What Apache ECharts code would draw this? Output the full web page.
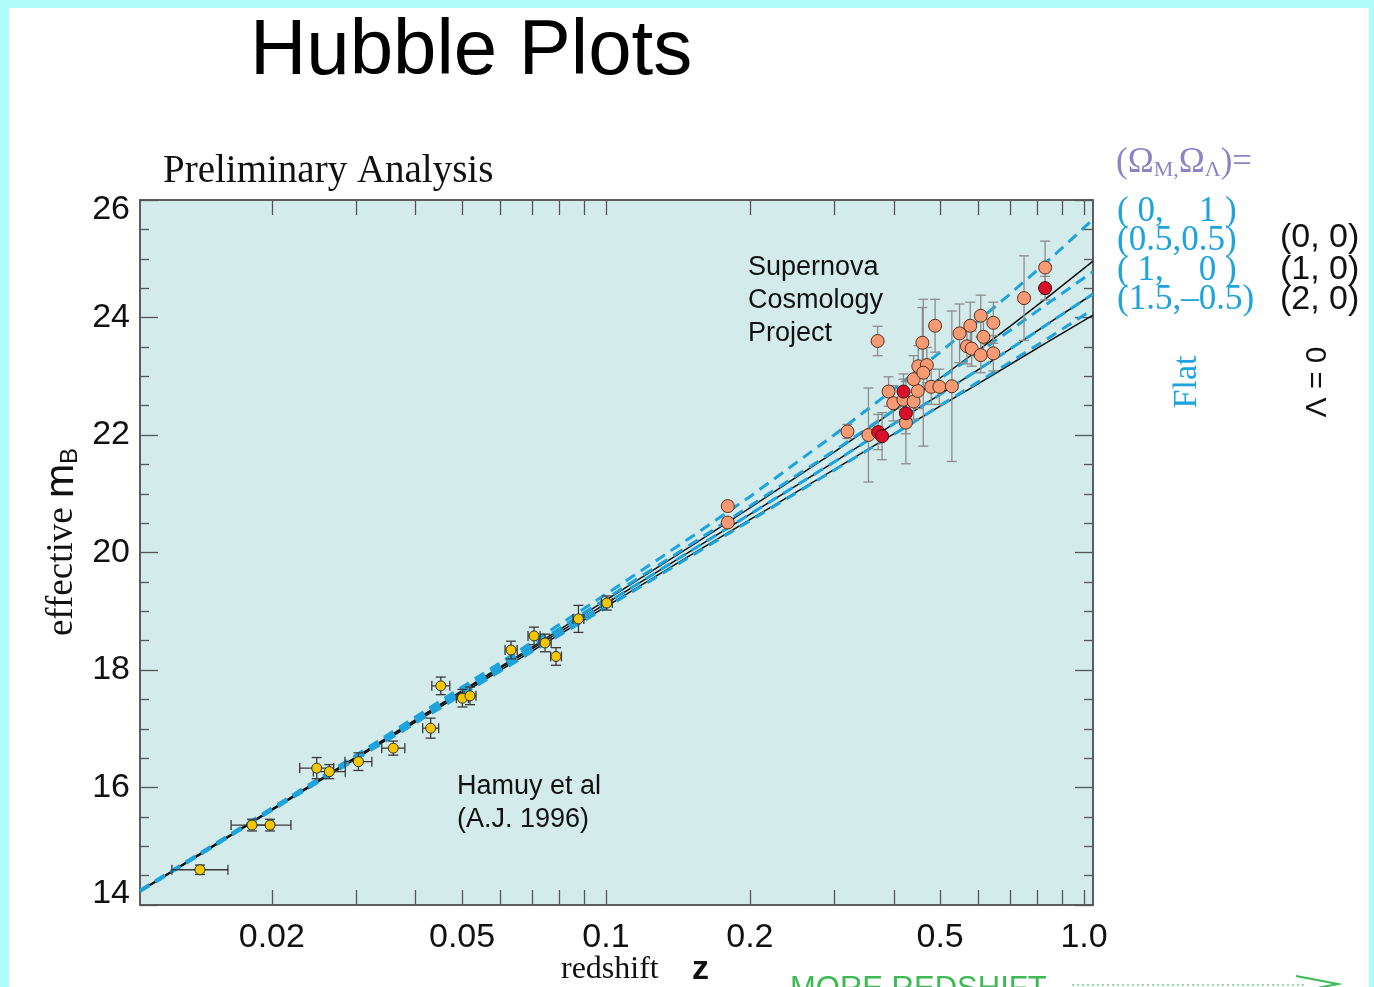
<!DOCTYPE html>
<html>
<head>
<meta charset="utf-8">
<script src="https://cdn.jsdelivr.net/npm/echarts@6/dist/echarts.min.js"></script>
<style>
html,body{margin:0;padding:0;width:1374px;height:987px;overflow:hidden;background:#aefcfc;}
#paper{position:absolute;left:9px;top:8px;width:1360px;height:990px;background:#ffffff;}
#chart{position:absolute;left:0;top:0;width:1374px;height:987px;}
</style>
</head>
<body>
<div id="paper"></div>
<div id="chart"></div>
<script>
// ---------------- data ----------------
// Calan/Tololo (Hamuy et al 1996) low-redshift supernovae
const hamuyZ   = [0.01415,0.01818,0.01983,0.02483,0.02638,0.03035,0.0359,0.04298,0.04513,0.05008,0.05195,0.0633,0.07072,0.07457,0.07862,0.08758,0.1004];
const hamuyM   = [14.60,15.36,15.36,16.33,16.27,16.44,16.67,17.01,17.73,17.52,17.56,18.34,18.58,18.46,18.23,18.87,19.14];
const hamuyZLo = [0.01236,0.01644,0.01793,0.02288,0.02443,0.02844,0.03396,0.04136,0.04322,0.04865,0.05047,0.0615,0.0687,0.0724,0.0766,0.0853,0.0978];
const hamuyZHi = [0.01619,0.02011,0.02193,0.02695,0.02849,0.03238,0.03795,0.04467,0.04713,0.05155,0.05347,0.0652,0.0728,0.0768,0.0807,0.0899,0.1031];
const hamuyMErr= [0.08,0.10,0.10,0.18,0.12,0.15,0.12,0.17,0.15,0.15,0.15,0.15,0.15,0.15,0.15,0.23,0.12];

// Supernova Cosmology Project, orange points
const scpZ    = [0.1798,0.1798,0.320,0.354,0.370,0.390,0.399,0.419,0.424,0.440,0.449,0.440,0.450,0.469,0.461,0.459,0.488,0.479,0.498,0.529,0.549,0.578,0.608,0.646,0.616,0.569,0.582,0.608,0.646,0.749,0.829];
const scpM    = [20.79,20.51,22.06,22.00,23.60,22.74,22.54,22.60,22.21,22.57,22.75,22.95,23.17,23.19,23.06,23.57,23.86,22.82,22.82,22.83,23.73,23.86,24.03,23.91,23.67,23.51,23.47,23.36,23.39,24.33,24.85];
const scpMErr = [0.08,0.08,0.12,0.80,0.25,0.25,0.30,0.35,0.70,0.30,0.30,0.40,0.35,0.30,1.25,0.60,0.45,0.30,0.30,1.28,0.50,0.40,0.35,0.35,0.30,0.30,0.30,0.30,0.30,0.72,0.45];
// SCP, red points
const scpRedZ    = [0.371,0.378,0.419,0.424,0.829];
const scpRedM    = [22.05,21.98,22.74,22.37,24.50];
const scpRedMErr = [0.30,0.40,0.30,0.35,0.20];

// model curves (Omega_M, Omega_Lambda)
const modelZ     = [0.0106,0.015,0.02,0.03,0.05,0.07,0.1,0.15,0.2,0.3,0.4,0.5,0.6,0.7,0.85,1.044];
const flat_0_1   = [14.25,15.01,15.65,16.55,17.71,18.47,19.29,20.25,20.95,22.00,22.78,23.41,23.94,24.40,25.00,25.67];
const flat_05_05 = [14.24,15.00,15.64,16.53,17.67,18.41,19.21,20.13,20.79,21.73,22.42,22.96,23.40,23.78,24.27,24.78];
const flat_1_0   = [14.24,14.99,15.62,16.51,17.63,18.36,19.13,20.02,20.65,21.54,22.19,22.69,23.11,23.46,23.92,24.40];
const flat_15_m05= [14.23,14.98,15.61,16.48,17.58,18.31,19.06,19.93,20.54,21.40,22.01,22.50,22.90,23.24,23.67,24.14];
const lam0_0_0   = [14.24,15.00,15.63,16.52,17.65,18.39,19.19,20.10,20.76,21.71,22.41,22.97,23.44,23.85,24.38,24.96];
const lam0_1_0   = [14.24,14.99,15.62,16.51,17.63,18.36,19.13,20.02,20.65,21.54,22.19,22.69,23.11,23.46,23.92,24.40];
const lam0_2_0   = [14.23,14.98,15.61,16.49,17.60,18.32,19.08,19.95,20.56,21.41,22.02,22.49,22.87,23.20,23.61,24.04];

// axes
const xMin = 0.0106, xMax = 1.044;
const xLabelValues = [0.02,0.05,0.1,0.2,0.5,1.0];
const xLabelTexts  = ['0.02','0.05','0.1','0.2','0.5','1.0'];
const xTickValues  = [0.02,0.03,0.04,0.05,0.06,0.07,0.08,0.09,0.1,0.2,0.3,0.4,0.5,0.6,0.7,0.8,0.9,1.0];
const yMin = 14, yMax = 26, yStep = 2;

// ---------------- chart ----------------
const chart = echarts.init(document.getElementById('chart'), null, {renderer:'canvas'});
const SANS = '"Liberation Sans", Arial, sans-serif';
const SERIF = '"Liberation Serif", "Times New Roman", serif';
const CYAN = '#1ea3dc';

function zip(xs, ys) { return xs.map((x, i) => [x, ys[i]]); }

function errRender(params, api) {
  const x = api.value(0), y = api.value(1);
  const xl = api.value(2), xh = api.value(3), yl = api.value(4), yh = api.value(5);
  const cap = api.value(6);
  const color = params.seriesName === 'hamuyErr' ? '#3a3a3a' : '#8c8c8c';
  const style = {stroke: color, lineWidth: 1.3};
  const c = api.coord([x, y]);
  const t = api.coord([x, yh]);
  const b = api.coord([x, yl]);
  const ch = [
    {type:'line', shape:{x1:c[0], y1:t[1], x2:c[0], y2:b[1]}, style},
    {type:'line', shape:{x1:c[0]-cap, y1:t[1], x2:c[0]+cap, y2:t[1]}, style},
    {type:'line', shape:{x1:c[0]-cap, y1:b[1], x2:c[0]+cap, y2:b[1]}, style}
  ];
  if (xh > xl) {
    const l = api.coord([xl, y]), r = api.coord([xh, y]);
    ch.push({type:'line', shape:{x1:l[0], y1:c[1], x2:r[0], y2:c[1]}, style});
    ch.push({type:'line', shape:{x1:l[0], y1:c[1]-cap, x2:l[0], y2:c[1]+cap}, style});
    ch.push({type:'line', shape:{x1:r[0], y1:c[1]-cap, x2:r[0], y2:c[1]+cap}, style});
  }
  return {type:'group', children: ch};
}

const hamuyErrData = hamuyZ.map((z, i) => [z, hamuyM[i], hamuyZLo[i], hamuyZHi[i], hamuyM[i]-hamuyMErr[i], hamuyM[i]+hamuyMErr[i], 5]);
const scpErrData = scpZ.map((z, i) => [z, scpM[i], z, z, scpM[i]-scpMErr[i], scpM[i]+scpMErr[i], 5])
  .concat(scpRedZ.map((z, i) => [z, scpRedM[i], z, z, scpRedM[i]-scpRedMErr[i], scpRedM[i]+scpRedMErr[i], 5]));

function modelLine(name, vals, dashed) {
  return {
    name, type:'line', data: zip(modelZ, vals), showSymbol:false, smooth:false,
    clip:true, silent:true, z: dashed ? 3 : 2,
    lineStyle: dashed ? {color:CYAN, width:3, type:[11,7]} : {color:'#111', width:1.5}
  };
}

const xAxisBase = {
  type:'log', logBase:10, min:xMin, max:xMax,
  axisLine:{show:true, onZero:false, lineStyle:{color:'#555', width:1.5}},
  axisTick:{show:true, inside:true, length:15, customValues:xTickValues, lineStyle:{color:'#555', width:1.3}},
  splitLine:{show:false}, minorTick:{show:false}, minorSplitLine:{show:false}
};
const yAxisBase = {
  type:'value', min:yMin, max:yMax, interval:yStep,
  axisLine:{show:true, onZero:false, lineStyle:{color:'#555', width:1.5}},
  axisTick:{show:true, inside:true, length:18, lineStyle:{color:'#555', width:1.3}},
  minorTick:{show:true, splitNumber:4, length:9, lineStyle:{color:'#555', width:1.3}},
  splitLine:{show:false}
};

function txt(x, y, text, size, family, color, extra) {
  return Object.assign({type:'text', x, y, silent:true,
    style:{text, fontSize:size, fontFamily:family, fill:color, align:'left', verticalAlign:'middle'}}, extra || {});
}

const option = {
  backgroundColor:'transparent',
  animation:false,
  grid:{left:140, right:281, top:200, bottom:82, show:true, backgroundColor:'#d3ebeb', borderColor:'#555', borderWidth:1.5},
  xAxis:[
    Object.assign({}, xAxisBase, {position:'bottom',
      axisLabel:{show:true, customValues:xLabelValues, margin:16, fontSize:34, fontFamily:SANS, color:'#111',
        formatter:(v) => { let best = 0; xLabelValues.forEach((lv, i) => { if (Math.abs(lv - v) < Math.abs(xLabelValues[best] - v)) best = i; }); return xLabelTexts[best]; }}}),
    Object.assign({}, xAxisBase, {position:'top', axisLabel:{show:false}})
  ],
  yAxis:[
    Object.assign({}, yAxisBase, {position:'left',
      axisLabel:{show:true, margin:10, fontSize:34, fontFamily:SANS, color:'#111',
        formatter:(v) => v === yMax ? '{hi|' + v + '}' : (v === yMin ? '{lo|' + v + '}' : String(v)),
        rich:{hi:{fontSize:34, fontFamily:SANS, color:'#111', padding:[20,0,0,0]},
              lo:{fontSize:34, fontFamily:SANS, color:'#111', padding:[0,0,22,0]}}}}),
    Object.assign({}, yAxisBase, {position:'right', axisLabel:{show:false}})
  ],
  series:[
    modelLine('lam0_0_0', lam0_0_0, false),
    modelLine('lam0_1_0', lam0_1_0, false),
    modelLine('lam0_2_0', lam0_2_0, false),
    modelLine('flat_0_1', flat_0_1, true),
    modelLine('flat_05_05', flat_05_05, true),
    modelLine('flat_1_0', flat_1_0, true),
    modelLine('flat_15_m05', flat_15_m05, true),
    {name:'hamuyErr', type:'custom', renderItem:errRender, data:hamuyErrData, clip:true, z:4, silent:true,
      encode:{x:0, y:1}},
    {name:'scpErr', type:'custom', renderItem:errRender, data:scpErrData, clip:true, z:4, silent:true,
      encode:{x:0, y:1}},
    {name:'hamuy', type:'scatter', data:zip(hamuyZ, hamuyM), symbol:'circle', symbolSize:10, z:5, silent:true,
      itemStyle:{color:'#f4c600', borderColor:'#333', borderWidth:1, opacity:1}},
    {name:'scp', type:'scatter', data:zip(scpZ, scpM), symbol:'circle', symbolSize:13, z:5, silent:true,
      itemStyle:{color:'#f59a72', borderColor:'#5b2f1f', borderWidth:1, opacity:1}},
    {name:'scpRed', type:'scatter', data:zip(scpRedZ, scpRedM), symbol:'circle', symbolSize:13, z:6, silent:true,
      itemStyle:{color:'#d8102c', borderColor:'#4a0c0c', borderWidth:1, opacity:1}}
  ],
  graphic:[
    txt(250, 52, 'Hubble Plots', 78, SANS, '#000'),
    txt(163, 172, 'Preliminary Analysis', 39, SERIF, '#111'),
    txt(748, 268, 'Supernova', 27, SANS, '#111'),
    txt(748, 301, 'Cosmology', 27, SANS, '#111'),
    txt(748, 334, 'Project', 27, SANS, '#111'),
    txt(457, 787, 'Hamuy et al', 27, SANS, '#111'),
    txt(457, 820, '(A.J. 1996)', 27, SANS, '#111'),
    {type:'text', x:1116, y:163, silent:true, style:{
      text:'{m|(Ω}{s|M,}{m|Ω}{s|Λ}{m|)=}', align:'left', verticalAlign:'middle',
      rich:{m:{fontSize:35, fontFamily:SERIF, fill:'#8c82c6', lineHeight:36, verticalAlign:'middle'},
            s:{fontSize:22, fontFamily:SERIF, fill:'#8c82c6', lineHeight:12, verticalAlign:'bottom'}}}},
    txt(1117, 212, '( 0,    1 )', 35, SERIF, CYAN),
    txt(1117, 241, '(0.5,0.5)', 35, SERIF, CYAN),
    txt(1117, 271, '( 1,    0 )', 35, SERIF, CYAN),
    txt(1117, 300, '(1.5,–0.5)', 35, SERIF, CYAN),
    txt(1280, 238, '(0, 0)', 34, SANS, '#111'),
    txt(1280, 270, '(1, 0)', 34, SANS, '#111'),
    txt(1280, 300, '(2, 0)', 34, SANS, '#111'),
    {type:'text', x:1187, y:382, rotation:Math.PI/2, silent:true,
      style:{text:'Flat', fontSize:34, fontFamily:SERIF, fill:CYAN, align:'center', verticalAlign:'middle'}},
    {type:'text', x:1318, y:382, rotation:Math.PI/2, silent:true,
      style:{text:'Λ = 0', fontSize:30, fontFamily:SANS, fill:'#111', align:'center', verticalAlign:'middle'}},
    {type:'text', x:62, y:542, rotation:Math.PI/2, silent:true, style:{
      text:'{e|effective }{m|m}{s|B}', align:'center', verticalAlign:'middle',
      rich:{e:{fontSize:37, fontFamily:SERIF, fill:'#111', lineHeight:40, verticalAlign:'middle'},
            m:{fontSize:41, fontFamily:SANS, fill:'#111', lineHeight:40, verticalAlign:'middle'},
            s:{fontSize:24, fontFamily:SANS, fill:'#111', lineHeight:12, verticalAlign:'bottom'}}}},
    txt(561, 970, 'redshift', 32, SERIF, '#111'),
    {type:'text', x:692, y:970, silent:true,
      style:{text:'z', fontSize:34, fontFamily:SANS, fontWeight:'bold', fill:'#111', align:'left', verticalAlign:'middle'}},
    txt(790, 989, 'MORE REDSHIFT', 31, SANS, '#3dba55'),
    {type:'line', silent:true, shape:{x1:1072, y1:985, x2:1305, y2:985},
      style:{stroke:'#7ccf8a', lineWidth:1.5, lineDash:[2,3]}},
    {type:'polyline', silent:true, shape:{points:[[1296,976],[1338,984],[1296,992]]},
      style:{stroke:'#3dba55', lineWidth:2, fill:null}}
  ]
};
chart.setOption(option);
</script>
</body>
</html>
